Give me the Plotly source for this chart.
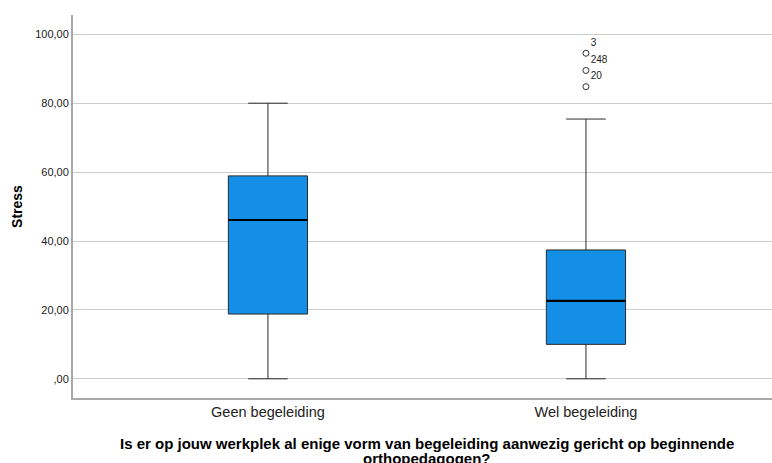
import plotly.graph_objects as go

categories = ["Geen begeleiding", "Wel begeleiding"]
lower_fence = [0.0, 0.0]
q1 = [18.8, 10.0]
median = [46.1, 22.6]
q3 = [58.9, 37.4]
upper_fence = [80.0, 75.4]

outlier_group = [1, 1, 1]
outlier_values = [94.5, 89.5, 84.8]
outlier_labels = ["3", "248", "20"]

ytick_vals = [0, 20, 40, 60, 80, 100]
ytick_text = [",00", "20,00", "40,00", "60,00", "80,00", "100,00"]

x_title_lines = [
    "Is er op jouw werkplek al enige vorm van begeleiding aanwezig gericht op beginnende",
    "orthopedagogen?",
]

BOX_W = 0.249
BOX_FILL = "#138fe8"
LINE = "#2a2a2a"

fig = go.Figure()
for i, cat in enumerate(categories):
    fig.add_trace(go.Box(
        x=[i], q1=[q1[i]], median=[median[i]], q3=[q3[i]],
        lowerfence=[lower_fence[i]], upperfence=[upper_fence[i]],
        width=BOX_W, whiskerwidth=0.5, fillcolor=BOX_FILL,
        line=dict(color=LINE, width=1), boxpoints=False,
        showlegend=False, hoverinfo="skip", name=cat,
    ))
    fig.add_trace(go.Scatter(
        x=[i - BOX_W / 2, i + BOX_W / 2], y=[median[i], median[i]],
        mode="lines", line=dict(color="#000000", width=2.2),
        showlegend=False, hoverinfo="skip",
    ))

fig.add_trace(go.Scatter(
    x=outlier_group, y=outlier_values, mode="markers+text",
    marker=dict(symbol="circle-open", size=6, color="#333333", line=dict(width=1)),
    text=outlier_labels, textposition="top right",
    textfont=dict(family="Liberation Sans, Arial", size=10, color="#222222"),
    showlegend=False, hoverinfo="skip",
))

annotations = []
for k, line in enumerate(x_title_lines):
    annotations.append(dict(
        xref="paper", yref="paper", x=0.506, y=0, yshift=-35 - 15 * k,
        xanchor="center", yanchor="top", showarrow=False,
        text="<b>" + line + "</b>",
        font=dict(size=15, color="#000000"),
    ))

fig.update_layout(
    width=772, height=463,
    margin=dict(l=73, r=0, t=15, b=65, autoexpand=False),
    paper_bgcolor="white", plot_bgcolor="white",
    font=dict(family="Liberation Sans, Arial", color="#222222"),
    xaxis=dict(
        range=[-0.613, 1.585], tickvals=[0, 1], ticktext=categories,
        showgrid=False, zeroline=False, showline=True,
        linecolor="#a8a8a8", linewidth=2, ticks="",
        tickfont=dict(size=14.5, color="#222222"), automargin=False,
    ),
    yaxis=dict(
        range=[-5.57, 105.6], tickvals=ytick_vals, ticktext=ytick_text,
        showgrid=True, gridcolor="#cdcdcd", gridwidth=1,
        zeroline=False, showline=True, linecolor="#a8a8a8", linewidth=2,
        ticks="", tickfont=dict(size=11, color="#222222"), automargin=False,
        title=dict(text="<b>Stress</b>", font=dict(size=14, color="#000000"), standoff=9),
    ),
    annotations=annotations,
)

fig.write_html("out.html", config={"displayModeBar": False},
               post_script="document.body.style.margin='0';")
